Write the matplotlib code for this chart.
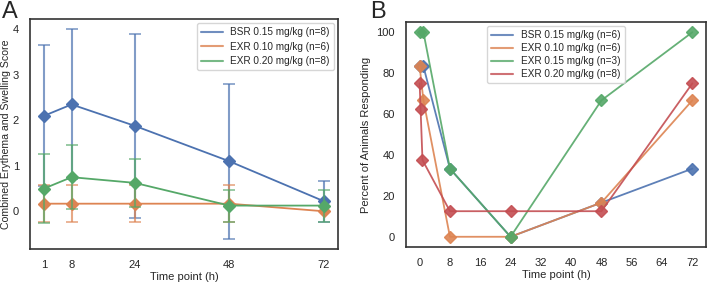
import matplotlib.pyplot as plt
from matplotlib.lines import Line2D
import seaborn as sns

# panel A: combined erythema and swelling score (mean +/- SD)
times_a = [1, 8, 24, 48, 72]
bsr_a = [2.1, 2.35, 1.88, 1.1, 0.22]
bsr_a_sd = [1.55, 1.65, 2.03, 1.7, 0.45]
exr010_a = [0.167, 0.167, 0.167, 0.167, 0.0]
exr010_a_sd = [0.408, 0.408, 0.408, 0.408, 0.0]
exr020_a = [0.5, 0.75, 0.625, 0.125, 0.125]
exr020_a_sd = [0.76, 0.71, 0.52, 0.354, 0.354]

# panel B: percent of animals responding
bsr_b_t = [0, 1, 8, 24, 48, 72]
bsr_b = [83.3, 83.3, 33.3, 0, 16.7, 33.3]
exr010_b_t = [0, 1, 8, 24, 48, 72]
exr010_b = [83.3, 66.7, 0, 0, 16.7, 66.7]
exr015_b_t = [0, 1, 8, 24, 48, 72]
exr015_b = [100, 100, 33.3, 0, 66.7, 100]
exr020_b_t = [0, 0.25, 0.75, 8, 24, 48, 72]
exr020_b = [75, 62.5, 37.5, 12.5, 12.5, 12.5, 75]

sns.set_theme(style='white')
plt.rcParams['font.family'] = ['Liberation Sans', 'DejaVu Sans']
pal = sns.color_palette('deep')
blue, orange, green, red = pal[0], pal[1], pal[2], pal[3]

fig = plt.figure(figsize=(7.08, 2.82), dpi=100)
axA = fig.add_axes([30 / 708, 1 - 249 / 282, 308 / 708, 230 / 282])
axB = fig.add_axes([406 / 708, 1 - 247 / 282, 300 / 708, 225 / 282])

series_a = [
    ('BSR 0.15 mg/kg (n=8)', bsr_a, bsr_a_sd, blue),
    ('EXR 0.10 mg/kg (n=6)', exr010_a, exr010_a_sd, orange),
    ('EXR 0.20 mg/kg (n=8)', exr020_a, exr020_a_sd, green),
]
handles = []
for label, vals, sd, col in series_a:
    axA.errorbar(times_a, vals, yerr=sd, color=col, lw=0, elinewidth=1.5,
                 capsize=4, capthick=1.2, alpha=0.7)
    axA.plot(times_a, vals, color=col, lw=1.3, marker='D', markersize=6)
    handles.append(Line2D([], [], color=col, lw=1.5, alpha=0.8, label=label))

axA.set_xticks(times_a)
axA.set_yticks([0, 1, 2, 3, 4])
axA.set_xlabel('Time point (h)', fontsize=8, labelpad=1)
axA.set_ylabel('Combined Erythema and Swelling Score', fontsize=7.6)
axA.yaxis.set_label_coords(-0.062, 0.5)
axA.tick_params(labelsize=8, pad=2)
axA.legend(handles=handles, loc='upper right', fontsize=7.2, frameon=True,
           handlelength=2.2, labelspacing=0.45, borderaxespad=0.4)

series_b = [
    ('BSR 0.15 mg/kg (n=6)', bsr_b_t, bsr_b, blue),
    ('EXR 0.10 mg/kg (n=6)', exr010_b_t, exr010_b, orange),
    ('EXR 0.15 mg/kg (n=3)', exr015_b_t, exr015_b, green),
    ('EXR 0.20 mg/kg (n=8)', exr020_b_t, exr020_b, red),
]
handles = []
for label, t, vals, col in series_b:
    axB.plot(t, vals, color=col, lw=1.3, marker='D', markersize=6, alpha=0.9)
    handles.append(Line2D([], [], color=col, lw=1.5, alpha=0.8, label=label))

axB.set_xticks(range(0, 73, 8))
axB.set_yticks(range(0, 101, 20))
axB.set_xlabel('Time point (h)', fontsize=8, labelpad=1)
axB.set_ylabel('Percent of Animals Responding', fontsize=8, labelpad=4)
axB.tick_params(labelsize=8, pad=2)
axB.legend(handles=handles, loc='upper center', fontsize=7.2, frameon=True,
           handlelength=2.2, labelspacing=0.3, borderaxespad=0.4)

for ax in (axA, axB):
    for s in ax.spines.values():
        s.set_color('#333333')
        s.set_linewidth(1.2)

fig.text(2 / 708, 1 - 1 / 282, 'A', fontsize=17, va='top', ha='left')
fig.text(370 / 708, 1 - 1 / 282, 'B', fontsize=17, va='top', ha='left')

fig.savefig('out.png', dpi=100)
